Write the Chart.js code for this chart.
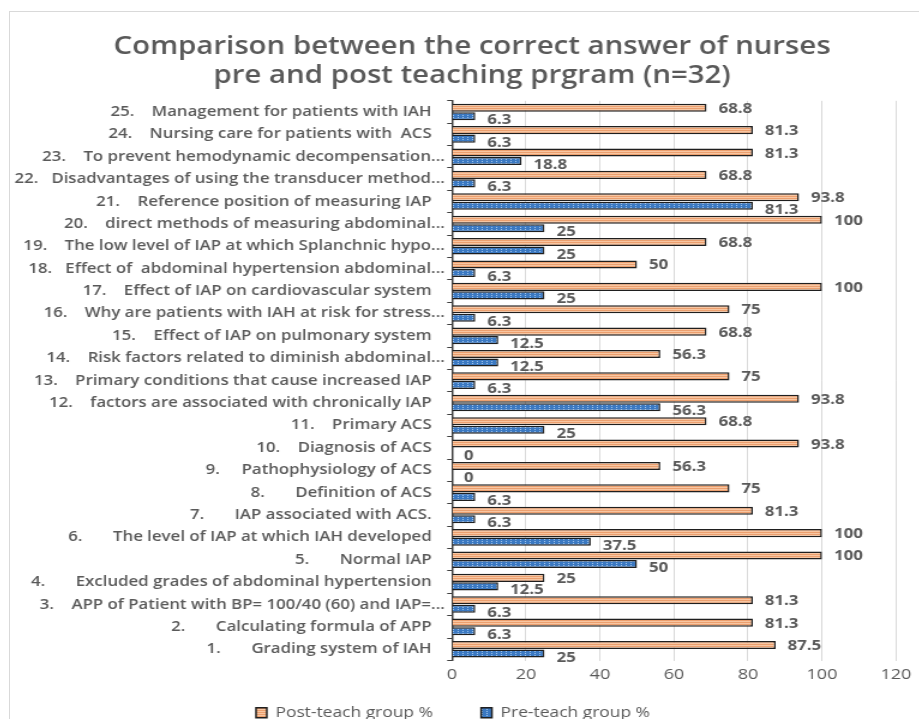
<!DOCTYPE html>
<html>
<head>
<meta charset="utf-8">
<script src="https://cdn.jsdelivr.net/npm/chart.js@4.4.0/dist/chart.umd.min.js"></script>
<style>
  html, body { margin: 0; padding: 0; background: #fff; overflow: hidden; }
  #frame { position: absolute; left: 9px; top: 11px; width: 930px; height: 730px;
           border-left: 1px solid #d9d9d9; border-top: 1px solid #d9d9d9; }
  canvas { display: block; }
</style>
</head>
<body>
<div id="frame">
  <!-- drawn at 770 wide and shown at 924 wide: the original picture is stretched sideways -->
  <canvas id="chart" width="770" height="718" style="width:924px;height:718px"></canvas>
</div>
<script>
// question labels, item 1 first (drawn bottom-up via reverse axis)
const questions = [
  '1.       Grading system of IAH   ',
  '2.       Calculating formula of APP   ',
  '3.    APP of Patient with BP= 100/40 (60) and IAP=...',
  '4.       Excluded grades of abdominal hypertension   ',
  '5.       Normal IAP   ',
  '6.       The level of IAP at which IAH developed   ',
  '7.       IAP associated with ACS.   ',
  '8.       Definition of ACS   ',
  '9.     Pathophysiology of ACS   ',
  '10.    Diagnosis of ACS   ',
  '11.    Primary ACS   ',
  '12.    factors are associated with chronically IAP   ',
  '13.    Primary conditions that cause increased IAP   ',
  '14.    Risk factors related to diminish abdominal...',
  '15.    Effect of IAP on pulmonary system   ',
  '16.    Why are patients with IAH at risk for stress...',
  '17.    Effect of IAP on cardiovascular system   ',
  '18.   Effect of  abdominal hypertension abdominal...',
  '19.    The low level of IAP at which Splanchnic hypo...',
  '20.    direct methods of measuring abdominal...',
  '21.    Reference position of measuring IAP   ',
  '22.   Disadvantages of using the transducer method...',
  '23.    To prevent hemodynamic decompensation...',
  '24.    Nursing care for patients with  ACS   ',
  '25.    Management for patients with IAH   '
];

const postTeach = [87.5, 81.3, 81.3, 25, 100, 100, 81.3, 75, 56.3, 93.8, 68.8, 93.8, 75,
                   56.3, 68.8, 75, 100, 50, 68.8, 100, 93.8, 68.8, 81.3, 81.3, 68.8];
const preTeach = [25, 6.3, 6.3, 12.5, 50, 37.5, 6.3, 6.3, 0, 0, 25, 56.3, 6.3,
                  12.5, 12.5, 6.3, 25, 6.3, 25, 25, 81.3, 6.3, 18.8, 6.3, 6.3];

const seriesNames = ['Post-teach group %', 'Pre-teach group %'];
const titleLines = ['Comparison between the correct answer of nurses',
                    'pre and post teaching prgram (n=32)'];

const GREY = '#595959';
const FONT = '"Open Sans", "Liberation Sans", sans-serif';
const SIDE = 31.7; // empty margin right of the plot; title is centred as if it were on both sides

// little textured fills, like the office chart
function makePattern(w, h, draw) {
  const c = document.createElement('canvas');
  c.width = w;
  c.height = h;
  draw(c.getContext('2d'));
  return c.getContext('2d').createPattern(c, 'repeat');
}

const orangeFill = makePattern(4, 2, g => {
  g.fillStyle = '#ec9f6e';
  g.fillRect(0, 0, 4, 2);
  g.fillStyle = '#f7c6a2';
  g.fillRect(0, 1, 4, 1);
});

const blueFill = makePattern(4, 2, g => {
  g.fillStyle = '#3b79c2';
  g.fillRect(0, 0, 4, 2);
  g.fillStyle = '#a3c6ec';
  g.fillRect(1, 1, 1, 1);
});

// value labels, painted under the bars so the next bar can cover them
const valueLabels = {
  id: 'valueLabels',
  afterLayout(chart) {
    chart.titleBlock.left += SIDE;
  },
  beforeDatasetsDraw(chart) {
    const ctx = chart.ctx;
    ctx.save();
    ctx.font = '700 14px ' + FONT;
    ctx.fillStyle = GREY;
    ctx.textBaseline = 'middle';
    chart.data.datasets.forEach((ds, i) => {
      chart.getDatasetMeta(i).data.forEach((bar, j) => {
        ctx.fillText(String(ds.data[j]), bar.x + 10, bar.y + (i === 0 ? 1 : 4));
      });
    });
    ctx.restore();
  }
};

new Chart(document.getElementById('chart'), {
  type: 'bar',
  data: {
    labels: questions,
    datasets: [
      {
        label: seriesNames[0],
        data: postTeach,
        backgroundColor: orangeFill,
        borderColor: '#1f1f1f',
        borderWidth: 1.5,
        categoryPercentage: 0.76,
        barPercentage: 0.95
      },
      {
        label: seriesNames[1],
        data: preTeach,
        backgroundColor: blueFill,
        borderColor: '#1f1f1f',
        borderWidth: 1.5,
        categoryPercentage: 0.76,
        barPercentage: 0.95
      }
    ]
  },
  options: {
    indexAxis: 'y',
    responsive: false,
    animation: false,
    layout: { padding: { left: 0, right: SIDE, top: 0, bottom: 0 } },
    plugins: {
      title: {
        display: true,
        text: titleLines,
        color: GREY,
        font: { family: FONT, size: 24.5, weight: '600' },
        padding: { top: 20, bottom: 10 }
      },
      legend: {
        position: 'bottom',
        labels: {
          color: GREY,
          font: { family: FONT, size: 14.5 },
          boxWidth: 9,
          boxHeight: 10,
          padding: 10,
          generateLabels(chart) {
            const items = Chart.defaults.plugins.legend.labels.generateLabels(chart);
            items[0].text += '        ';
            return items;
          }
        }
      },
      tooltip: { enabled: false }
    },
    scales: {
      x: {
        min: 0,
        max: 120,
        ticks: { stepSize: 20, color: GREY, font: { family: FONT, size: 15 }, padding: 5 },
        grid: { color: '#d9d9d9', drawTicks: false },
        border: { display: false },
        afterFit(scale) { scale.height = 35; }
      },
      y: {
        reverse: true,
        ticks: { color: GREY, font: { family: FONT, size: 14, weight: '600' }, padding: 2, autoSkip: false },
        grid: { drawOnChartArea: false, color: '#404040', tickLength: 4, offset: true },
        border: { display: true, color: '#404040', width: 1.5 },
        afterFit(scale) { scale.width = 368.3; }
      }
    }
  },
  plugins: [valueLabels]
});
</script>
</body>
</html>
